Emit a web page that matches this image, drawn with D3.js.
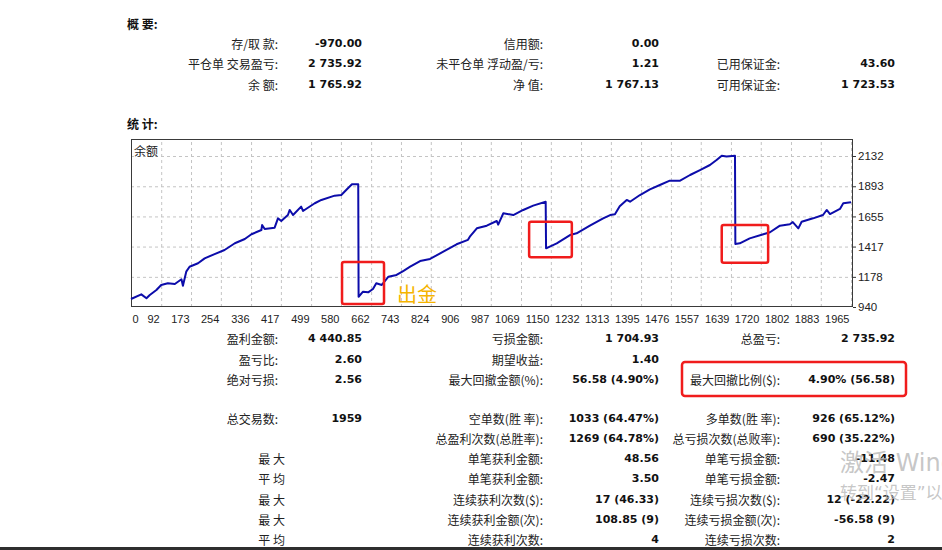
<!DOCTYPE html>
<html>
<head>
<meta charset="utf-8">
<script src="https://cdn.jsdelivr.net/npm/d3@7"></script>
<style>
  body { margin: 0; background: #fff; }
  svg { display: block; }
</style>
</head>
<body>
<script>
var width = 942;
var height = 550;

// balance curve: trade number / balance
var trades = [10, 38, 52, 61, 79, 92, 110, 129, 147, 151, 160, 169, 192, 210, 237, 264, 292, 319, 337, 364, 366, 373, 400, 409, 418, 436, 441, 450, 472, 477, 509, 527, 563, 581, 599, 610, 627,
  628, 640, 654, 667, 676, 691, 709, 731, 749, 768, 795, 822, 858, 894, 925, 930, 949, 976, 1003, 1007, 1021, 1048, 1075, 1102, 1136,
  1137, 1166, 1202, 1220, 1256, 1292, 1311, 1324, 1337, 1356, 1365, 1392, 1419, 1446, 1473, 1501, 1528, 1555, 1582, 1600, 1614, 1627, 1650,
  1651, 1663, 1690, 1727, 1745, 1772, 1799, 1807, 1822, 1831, 1862, 1889, 1899, 1908, 1935, 1944, 1968];
var balance = [1003, 1040, 1009, 1035, 1074, 1114, 1127, 1122, 1159, 1108, 1219, 1258, 1285, 1324, 1358, 1390, 1443, 1477, 1514, 1548, 1587, 1556, 1566, 1640, 1619, 1666, 1706, 1666, 1732, 1698, 1759, 1785, 1819, 1824, 1877, 1909, 1909,
  1021, 1061, 1056, 1082, 1127, 1114, 1179, 1193, 1224, 1258, 1303, 1319, 1377, 1435, 1470, 1495, 1561, 1582, 1619, 1590, 1680, 1666, 1706, 1740, 1771,
  1403, 1443, 1508, 1522, 1582, 1640, 1666, 1672, 1735, 1785, 1771, 1824, 1869, 1903, 1937, 1937, 1982, 2021, 2061, 2100, 2134, 2128, 2134,
  1437, 1443, 1482, 1514, 1530, 1582, 1593, 1610, 1561, 1613, 1640, 1666, 1706, 1674, 1714, 1759, 1766];

var xTicks = [0, 92, 173, 254, 336, 417, 499, 580, 662, 743, 824, 906, 987, 1069, 1150, 1232, 1313, 1395, 1476, 1557, 1639, 1720, 1802, 1883, 1965];
var yTicks = [940, 1178, 1417, 1655, 1893, 2132];

// withdrawal boxes [trade0, trade1, balanceTop, balanceBottom]
var boxes = [[583, 697, 1295, 964], [1091, 1207, 1613, 1332], [1614, 1740, 1587, 1290]];

// report text rows
var summaryRows = [
  [["存/取 款:", "-970.00"], ["信用额:", "0.00"], null],
  [["平仓单 交易盈亏:", "2 735.92"], ["未平仓单 浮动盈/亏:", "1.21"], ["已用保证金:", "43.60"]],
  [["余 额:", "1 765.92"], ["净 值:", "1 767.13"], ["可用保证金:", "1 723.53"]]
];
var summaryY = [43, 63.5, 84];

var statRows = [
  [["盈利金额:", "4 440.85"], ["亏损金额:", "1 704.93"], ["总盈亏:", "2 735.92"]],
  [["盈亏比:", "2.60"], ["期望收益:", "1.40"], null],
  [["绝对亏损:", "2.56"], ["最大回撤金额(%):", "56.58 (4.90%)"], ["最大回撤比例($):", "4.90% (56.58)"]],
  [["总交易数:", "1959"], ["空单数(胜 率):", "1033 (64.47%)"], ["多单数(胜 率):", "926 (65.12%)"]],
  [null, ["总盈利次数(总胜率):", "1269 (64.78%)"], ["总亏损次数(总败率):", "690 (35.22%)"]],
  [["最 大", ""], ["单笔获利金额:", "48.56"], ["单笔亏损金额:", "-11.48"]],
  [["平 均", ""], ["单笔获利金额:", "3.50"], ["单笔亏损金额:", "-2.47"]],
  [["最 大", ""], ["连续获利次数($):", "17 (46.33)"], ["连续亏损次数($):", "12 (-22.22)"]],
  [["最 大", ""], ["连续获利金额(次):", "108.85 (9)"], ["连续亏损金额(次):", "-56.58 (9)"]],
  [["平 均", ""], ["连续获利次数:", "4"], ["连续亏损次数:", "2"]]
];
var statY = [338.5, 359, 379.5, 418.5, 438.5, 458.5, 478.5, 499, 519, 539];

var labelRight = [278, 543, 780];
var valueRight = [362, 659, 895];

var cnFont = "'Noto Sans CJK SC', sans-serif";
var numFont = "'DejaVu Sans', sans-serif";

var svg = d3.select("body").append("svg")
    .attr("width", width)
    .attr("height", height);

function writeRows(rows, ys) {
  rows.forEach(function (row, r) {
    row.forEach(function (cell, c) {
      if (!cell) return;
      var noColon = cell[0].indexOf(":") < 0;
      svg.append("text")
        .attr("x", noColon ? labelRight[c] + 7 : labelRight[c])
        .attr("y", ys[r])
        .attr("dominant-baseline", "central")
        .attr("text-anchor", "end")
        .attr("font-family", cnFont)
        .attr("font-size", 12)
        .attr("fill", "#222")
        .text(cell[0]);
      svg.append("text")
        .attr("x", valueRight[c])
        .attr("y", ys[r])
        .attr("dominant-baseline", "central")
        .attr("text-anchor", "end")
        .attr("font-family", numFont)
        .attr("font-weight", "bold")
        .attr("font-size", 11)
        .attr("fill", "#111")
        .text(cell[1]);
    });
  });
}

svg.append("text").attr("x", 127).attr("y", 23).attr("dominant-baseline", "central")
  .attr("font-family", cnFont).attr("font-weight", "bold").attr("font-size", 12).attr("fill", "#111").text("概 要:");
svg.append("text").attr("x", 127).attr("y", 123).attr("dominant-baseline", "central")
  .attr("font-family", cnFont).attr("font-weight", "bold").attr("font-size", 12).attr("fill", "#111").text("统 计:");

writeRows(summaryRows, summaryY);
writeRows(statRows, statY);

// chart
var plotL = 131, plotT = 139, plotR = 853, plotB = 307;
var xScale = d3.scaleLinear().domain([10, 1965]).range([131, 851]).clamp(true);
var yScale = d3.scaleLinear().domain([940, 2132]).range([307, 156]);

// grid
svg.append("g")
  .attr("transform", "translate(0," + plotB + ")")
  .call(d3.axisBottom(xScale).tickValues(xTicks.slice(1)).tickSize(-(plotB - plotT)).tickFormat(""))
  .call(g => g.select(".domain").remove())
  .selectAll("line").attr("stroke", "#c4c4c4").attr("stroke-dasharray", "3,3");

svg.append("g")
  .attr("transform", "translate(" + plotL + ",0)")
  .call(d3.axisRight(yScale).tickValues(yTicks.slice(1)).tickSize(plotR - plotL).tickFormat(""))
  .call(g => g.select(".domain").remove())
  .selectAll("line").attr("stroke", "#c4c4c4").attr("stroke-dasharray", "3,3");

// x labels
var xAxis = svg.append("g")
  .attr("transform", "translate(0," + plotB + ")")
  .call(d3.axisBottom(xScale).tickValues(xTicks).tickSize(0).tickPadding(8).tickFormat(d3.format("d")));
xAxis.select(".domain").remove();
xAxis.selectAll("text")
  .attr("font-family", "'Liberation Sans', Arial, sans-serif")
  .attr("font-size", 11)
  .attr("fill", "#222")
  .attr("text-anchor", d => d === 0 ? "start" : "end")
  .attr("dx", d => d === 0 ? 1 : -2);

// y labels
var yAxis = svg.append("g")
  .attr("transform", "translate(" + plotR + ",0)")
  .call(d3.axisRight(yScale).tickValues(yTicks).tickSize(3).tickPadding(2).tickFormat(d3.format("d")));
yAxis.select(".domain").remove();
yAxis.selectAll("line").attr("stroke", "#333");
yAxis.selectAll("text")
  .attr("font-family", "'Liberation Sans', Arial, sans-serif")
  .attr("font-size", 11.5)
  .attr("fill", "#222");

// frame
svg.append("rect")
  .attr("x", plotL + 0.5).attr("y", plotT + 0.5)
  .attr("width", plotR - plotL - 1).attr("height", plotB - plotT - 1)
  .attr("fill", "none").attr("stroke", "#3a3a3a");

svg.append("text").attr("x", 134).attr("y", 150).attr("dominant-baseline", "central")
  .attr("font-family", cnFont).attr("font-size", 12).attr("fill", "#222").text("余额");

var line = d3.line()
    .x((d, i) => xScale(trades[i]))
    .y(d => yScale(d));

svg.append("path")
    .datum(balance)
    .attr("fill", "none")
    .attr("stroke", "#0c0caa")
    .attr("stroke-width", 2)
    .attr("stroke-linejoin", "round")
    .attr("d", line);

// annotations
svg.selectAll("rect.box")
  .data(boxes)
  .enter().append("rect")
  .attr("class", "box")
  .attr("x", d => xScale(d[0]))
  .attr("y", d => yScale(d[2]))
  .attr("width", d => xScale(d[1]) - xScale(d[0]))
  .attr("height", d => yScale(d[3]) - yScale(d[2]))
  .attr("rx", 2)
  .attr("fill", "none")
  .attr("stroke", "#f01c1c")
  .attr("stroke-width", 2.5);

svg.append("text")
  .attr("x", xScale(732)).attr("y", yScale(964) - 2)
  .attr("font-family", cnFont).attr("font-size", 20).attr("fill", "#f5b400")
  .text("出金");

svg.append("rect")
  .attr("x", 682).attr("y", 362).attr("width", 224).attr("height", 34).attr("rx", 3)
  .attr("fill", "none").attr("stroke", "#f01c1c").attr("stroke-width", 2.5);

// windows watermark
var wmFont = "'DejaVu Sans', 'Noto Sans CJK SC', sans-serif";
svg.append("text").attr("x", 840).attr("y", 471)
  .attr("font-family", wmFont).attr("font-size", 24).attr("fill", "#b8b8b8").attr("fill-opacity", 0.8)
  .text("激活 Windows");
svg.append("text").attr("x", 840).attr("y", 499)
  .attr("font-family", wmFont).attr("font-size", 17).attr("fill", "#b8b8b8").attr("fill-opacity", 0.8)
  .text("转到“设置”以激活 Windows。");

svg.append("rect").attr("x", 0).attr("y", 547).attr("width", width).attr("height", 3).attr("fill", "#2e2e2e");
</script>
</body>
</html>
